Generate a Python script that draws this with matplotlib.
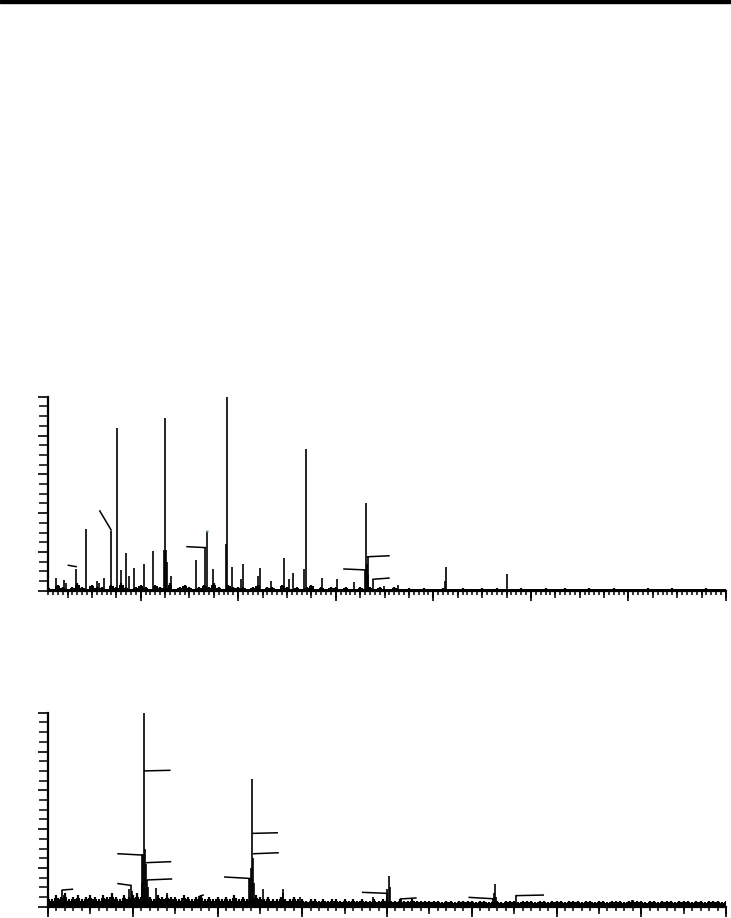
import numpy as np
import matplotlib.pyplot as plt
from matplotlib.patches import Rectangle
from matplotlib.ticker import MultipleLocator, NullFormatter

# Spectrum 1: peak positions (m/z) and relative intensities (%)
mz1 = [113.0, 121.8, 133.8, 144.1, 169.7, 175.8, 180.2, 185.3, 188.3, 192.9,
       203.2, 212.4, 157.7, 93.3, 223.5, 224.7, 225.5, 226.5, 231.0, 256.5,
       266.3, 268.3, 273.9, 287.5, 288.2, 293.3, 303.3, 305.4, 320.5, 322.3,
       334.0, 346.6, 352.5, 355.8, 367.7, 369.2, 385.5, 401.2, 418.3, 430.4,
       430.6, 431.6, 432.7, 433.5, 438.4, 449.7, 464.0, 511.6, 512.6, 575.7,
       154.9, 162.5, 123.0]
int1 = [6.5, 5.5, 11, 32, 31, 83.7, 10.6, 19.4, 7.6, 11.7,
        14, 20.6, 4, 4, 21, 88.9, 21, 15, 7.6, 15.8,
        22.4, 31, 11, 24, 100, 12, 6, 14, 7.6, 11.7,
        5, 16.8, 6, 9, 11, 72.9, 6.4, 6, 4.7, 10.6,
        45, 14, 17.5, 8, 6, 2.5, 3, 5, 12.4, 8.6,
        5, 6.5, 4]

# Spectrum 1: baseline noise, every 5 units from 105
noise1 = [2, 1, 3, 2, 1, 2, 4, 2, 1, 3,
          2, 2, 1, 3, 2, 4, 2, 1, 2, 3,
          2, 1, 3, 2, 2, 4, 1, 2, 3, 2,
          1, 2, 3, 2, 4, 2, 1, 3, 2, 2,
          2, 1, 2, 3, 1, 2, 2, 1, 3, 2,
          1, 2, 1, 2, 3, 1, 2, 1, 2, 2,
          1, 2, 1, 1, 2, 1, 2, 1, 2, 1,
          1, 2, 1, 1, 1.5, 1, 1, 1.5, 1, 1,
          1, 1.5, 1, 1, 1, 1.5, 1, 1, 1, 1.5,
          1, 1, 1.5, 1, 1, 1, 1, 1.5, 1, 1,
          1, 1, 1.5, 1, 1, 1, 1.5, 1, 1, 1,
          1, 1.5, 1, 1, 1, 1, 1.5, 1, 1, 1,
          1, 1, 1, 1.5, 1, 1, 1, 1, 1.5, 1,
          1, 1, 1, 1, 1, 1.5, 1, 1, 1, 1]

# Spectrum 1: label leader lines (text removed): x0, y0, x1, y1
lead1_x0 = [125.9, 158.1, 247.5, 408.4, 432.7, 438.4]
lead1_y0 = [13.1, 41.1, 22.7, 11.2, 17.5, 5.9]
lead1_x1 = [133.8, 169.7, 266.3, 430.6, 454.5, 454.5]
lead1_y1 = [12.4, 31.3, 22.2, 10.7, 18.0, 6.5]

# Spectrum 2
mz2 = [217.0, 218.5, 297.6, 296.0, 299.0, 310.5, 311.5, 312.2, 313.3, 314.5,
       315.5, 316.5, 317.5, 327.0, 341.0, 378.3, 437.3, 438.5, 439.5, 440.5,
       441.5, 442.5, 453.8, 476.7, 477.5, 497.2, 583.7, 599.5, 600.5, 601.9,
       603.4, 616.0, 725.4, 726.5, 727.7, 729.0, 752.2, 888.8, 890.0]
int2 = [8.5, 6, 11, 9, 8, 12, 27, 26.6, 100, 30,
        22, 14, 10, 9.6, 7, 5.5, 15, 15, 20, 65.7,
        25, 12, 9, 9, 7, 5, 5, 7, 9, 15.8,
        10, 4, 4, 7, 11.5, 5, 5.7, 3.4, 3.4]

# Spectrum 2: baseline noise, every 5 units from 200
noise2 = [5, 4, 6, 5, 7, 4, 5, 6, 4, 5,
          6, 5, 4, 6, 5, 7, 5, 4, 6, 5,
          6, 7, 5, 6, 5, 4, 6, 5, 6, 5,
          5, 4, 6, 5, 4, 5, 6, 4, 5, 4,
          5, 4, 5, 4, 6, 4, 5, 4, 5, 6,
          5, 4, 5, 4, 4, 5, 4, 4, 5, 4,
          4, 3, 4, 4, 3, 4, 3, 4, 4, 3,
          4, 3, 4, 3, 4, 3, 3, 4, 3, 4,
          4, 3, 3, 4, 3, 3, 4, 3, 3, 3,
          3, 3, 3, 2.5, 3, 3, 2.5, 3, 3, 3,
          3, 2.5, 3, 3, 2.5, 3, 3, 2.5, 3, 3,
          3, 2.5, 3, 3, 3, 2.5, 3, 3, 2.5, 3,
          3, 3, 2.5, 3, 3, 3, 2.5, 3, 3, 2.5,
          3, 3, 2.5, 3, 3, 3, 2.5, 3, 3, 3,
          3, 2.5, 3, 3, 2.5, 3, 3, 3, 2.5, 3,
          3, 3, 2.5, 3, 3, 2.5, 3, 3, 3, 2.5,
          3]

lead2_x0 = [314.2, 316.2, 317.4, 282.6, 282.6, 217.0, 378.3, 408.6, 442.0, 442.9, 571.2, 616.0, 697.0, 752.2]
lead2_y0 = [70.0, 22.7, 13.8, 27.3, 11.9, 8.6, 5.2, 15.3, 37.8, 27.3, 7.4, 4.0, 4.8, 5.7]
lead2_x1 = [343.7, 344.5, 345.7, 312.2, 297.6, 228.8, 383.0, 437.3, 470.4, 471.5, 599.5, 634.1, 725.4, 784.4]
lead2_y1 = [70.3, 23.2, 14.3, 26.6, 11.0, 9.0, 6.0, 14.6, 38.1, 27.8, 6.9, 4.5, 4.1, 6.0]


def draw_panel(ax, mz, inten, noise, n_start, lx0, ly0, lx1, ly1,
               xlim, major, medium, minor):
    noise = np.asarray(noise, dtype=float)
    nx = n_start + 5 * np.arange(len(noise))
    # solid lower band of the baseline plus a spike at each sample
    ax.fill_between(nx, 0, noise * 0.75, step='mid', color='black', lw=0)
    ax.vlines(nx, 0, noise, color='black', lw=1.6)
    ax.vlines(mz, 0, inten, color='black', lw=1.2)
    for a, b, c, d in zip(lx0, ly0, lx1, ly1):
        ax.plot([a, c], [b, d], color='black', lw=1.1)

    ax.set_xlim(*xlim)
    ax.set_ylim(0, 100)
    for s in ['top', 'right']:
        ax.spines[s].set_visible(False)
    for s in ['left', 'bottom']:
        ax.spines[s].set_linewidth(1.6)

    ax.xaxis.set_major_locator(MultipleLocator(major))
    ax.xaxis.set_minor_locator(MultipleLocator(minor))
    ax.yaxis.set_major_locator(MultipleLocator(20))
    ax.yaxis.set_minor_locator(MultipleLocator(5))
    ax.xaxis.set_major_formatter(NullFormatter())
    ax.yaxis.set_major_formatter(NullFormatter())
    ax.tick_params(axis='x', which='major', length=7.5, width=1.2, direction='out')
    ax.tick_params(axis='x', which='minor', length=3.2, width=1.1, direction='out')
    ax.tick_params(axis='y', which='major', length=7.5, width=1.2, direction='out')
    ax.tick_params(axis='y', which='minor', length=6.5, width=1.1, direction='out')

    sec = ax.secondary_xaxis('bottom')
    sec.spines['bottom'].set_visible(False)
    sec.xaxis.set_major_locator(MultipleLocator(medium))
    sec.xaxis.set_major_formatter(NullFormatter())
    sec.tick_params(axis='x', length=5.2, width=1.1, direction='out')
    ax.patch.set_alpha(0)


fig = plt.figure(figsize=(7.31, 9.18), dpi=100)
fig.patches.append(Rectangle((0, 1 - 3 / 918), 1, 3 / 918,
                             transform=fig.transFigure, color='black'))

ax1 = fig.add_axes([48 / 731, 1 - 590.7 / 918, 678 / 731, 194 / 918])
draw_panel(ax1, mz1, int1, noise1, 105, lead1_x0, lead1_y0, lead1_x1, lead1_y1,
           (105, 800), 100, 25, 5)
ax1.plot([268.3], [31], marker='s', ms=2, color='#4caf50', mec='none')

ax2 = fig.add_axes([48 / 731, 1 - 906.7 / 918, 678 / 731, 194 / 918])
draw_panel(ax2, mz2, int2, noise2, 200, lead2_x0, lead2_y0, lead2_x1, lead2_y1,
           (200, 1000), 100, 50, 10)

fig.savefig('out.png', dpi=100)
